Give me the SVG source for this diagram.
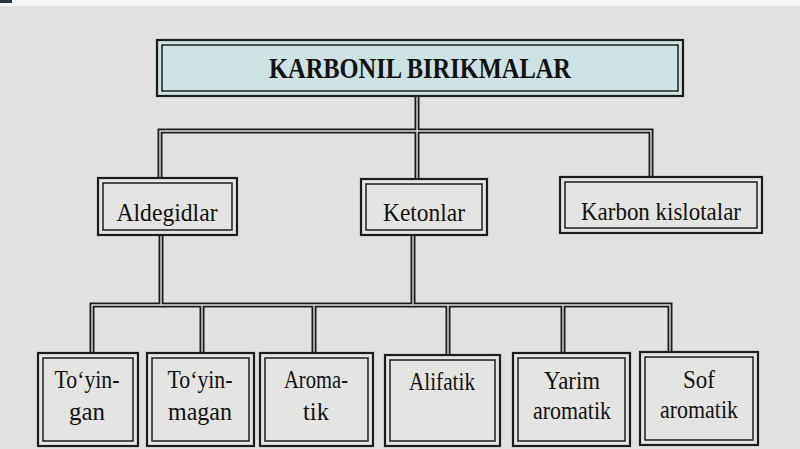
<svg xmlns="http://www.w3.org/2000/svg" width="800" height="449" viewBox="0 0 800 449">
<defs>
<style>
.bg{fill:#e1e1df}
.box{fill:#e4e4e2;stroke:#1c1c1c;stroke-width:2.2}
.top{fill:#cde2e2;stroke:#1c1c1c;stroke-width:2.2}
.inner{fill:none;stroke:#1c1c1c;stroke-width:1.5}
.wire{fill:none;stroke:#1c1c1c;stroke-width:5;stroke-linejoin:miter}
.gap{fill:none;stroke:#dcdcda;stroke-width:1.4}
text{font-family:"Liberation Serif","Times New Roman",serif;fill:#111;text-anchor:middle}
.t1{font-size:30px;font-weight:bold}
.t2{font-size:26px}
.t3{font-size:25px}
</style>
</defs>
<rect class="bg" x="0" y="0" width="800" height="449"/>
<rect x="0" y="0" width="800" height="6" fill="#f5f5f5"/>
<rect x="0" y="0" width="12" height="3" fill="#2a3340"/>

<g id="connectors">
<path class="wire" d="M417,96 V131 M160,180 V131 H651 V178 M417,131 V180"/>
<path class="gap" d="M417,96 V131 M160,180 V131 H651 V178 M417,131 V180"/>
<path class="wire" d="M161,234 V305 M413,234 V305 M92,353 V305 H670 V352 M202,353 V305 M314,353 V305 M448,355 V305 M563,353 V305"/>
<path class="gap" d="M161,234 V305 M413,234 V305 M92,353 V305 H670 V352 M202,353 V305 M314,353 V305 M448,355 V305 M563,353 V305"/>
</g>

<g id="karbonil">
<rect class="top" x="157" y="40" width="526" height="56"/>
<rect class="inner" x="162" y="45" width="516" height="46"/>
<text class="t1" x="420" y="78" textLength="302" lengthAdjust="spacingAndGlyphs">KARBONIL BIRIKMALAR</text>
</g>

<g id="aldegidlar">
<rect class="box" x="98" y="178" width="139" height="57"/>
<rect class="inner" x="103" y="183" width="129" height="47"/>
<text class="t2" x="167" y="221" textLength="101" lengthAdjust="spacingAndGlyphs">Aldegidlar</text>
</g>

<g id="ketonlar">
<rect class="box" x="361" y="179" width="126" height="56"/>
<rect class="inner" x="366" y="184" width="116" height="46"/>
<text class="t2" x="424" y="221" textLength="82" lengthAdjust="spacingAndGlyphs">Ketonlar</text>
</g>

<g id="karbon-kislotalar">
<rect class="box" x="560" y="177" width="202" height="56"/>
<rect class="inner" x="565" y="182" width="192" height="46"/>
<text class="t2" x="661" y="220" textLength="160" lengthAdjust="spacingAndGlyphs">Karbon kislotalar</text>
</g>

<g id="toyingan">
<rect class="box" x="38" y="353" width="100" height="93"/>
<rect class="inner" x="43" y="358" width="90" height="83"/>
<text class="t3" x="87" y="388" textLength="65" lengthAdjust="spacingAndGlyphs">To‘yin-</text>
<text class="t3" x="87" y="420" textLength="36" lengthAdjust="spacingAndGlyphs">gan</text>
</g>

<g id="toyinmagan">
<rect class="box" x="147" y="353" width="107" height="93"/>
<rect class="inner" x="152" y="358" width="97" height="83"/>
<text class="t3" x="200" y="388" textLength="65" lengthAdjust="spacingAndGlyphs">To‘yin-</text>
<text class="t3" x="200" y="420" textLength="64" lengthAdjust="spacingAndGlyphs">magan</text>
</g>

<g id="aromatik">
<rect class="box" x="260" y="353" width="113" height="93"/>
<rect class="inner" x="265" y="358" width="103" height="83"/>
<text class="t3" x="316" y="388" textLength="64" lengthAdjust="spacingAndGlyphs">Aroma-</text>
<text class="t3" x="316" y="420" textLength="26" lengthAdjust="spacingAndGlyphs">tik</text>
</g>

<g id="alifatik">
<rect class="box" x="385" y="355" width="115" height="91"/>
<rect class="inner" x="390" y="360" width="105" height="81"/>
<text class="t3" x="442" y="390" textLength="66" lengthAdjust="spacingAndGlyphs">Alifatik</text>
</g>

<g id="yarim-aromatik">
<rect class="box" x="513" y="353" width="117" height="93"/>
<rect class="inner" x="518" y="358" width="107" height="83"/>
<text class="t3" x="572" y="389" textLength="56" lengthAdjust="spacingAndGlyphs">Yarim</text>
<text class="t3" x="572" y="419" textLength="78" lengthAdjust="spacingAndGlyphs">aromatik</text>
</g>

<g id="sof-aromatik">
<rect class="box" x="640" y="352" width="118" height="93"/>
<rect class="inner" x="645" y="357" width="108" height="83"/>
<text class="t3" x="699" y="388" textLength="32" lengthAdjust="spacingAndGlyphs">Sof</text>
<text class="t3" x="699" y="418" textLength="78" lengthAdjust="spacingAndGlyphs">aromatik</text>
</g>
</svg>
